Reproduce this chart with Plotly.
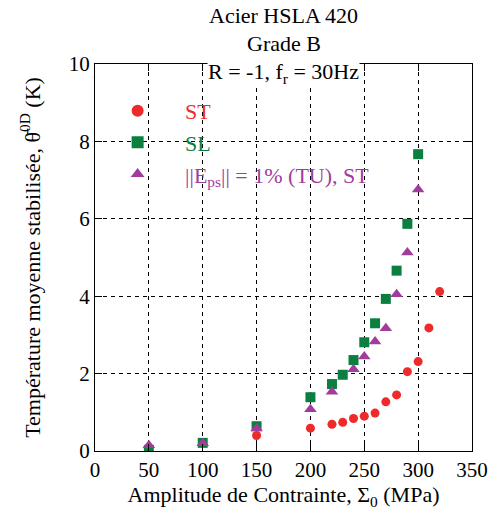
import plotly.graph_objects as go

# Data
st_x = [150, 200, 220, 230, 240, 250, 260, 270, 280, 290, 300, 310, 320]
st_y = [0.40, 0.59, 0.69, 0.74, 0.84, 0.90, 0.98, 1.27, 1.45, 2.05, 2.31, 3.18, 4.12]

sl_x = [50, 100, 150, 200, 220, 230, 240, 250, 260, 270, 280, 290, 300]
sl_y = [0.03, 0.21, 0.64, 1.39, 1.73, 1.97, 2.35, 2.81, 3.30, 3.93, 4.66, 5.87, 7.67]

tu_x = [50, 100, 150, 200, 220, 240, 250, 260, 270, 280, 290, 300]
tu_y = [0.15, 0.20, 0.58, 1.08, 1.53, 2.11, 2.44, 2.83, 3.17, 4.05, 5.13, 6.76]

x_ticks = [0, 50, 100, 150, 200, 250, 300, 350]
y_ticks = [0, 2, 4, 6, 8, 10]

RED = "#ee2a2a"
GREEN = "#0b7f40"
PURPLE = "#a23c9c"
FONT = "Liberation Serif"
PAD = "\u00a0" * 5

fig = go.Figure()
fig.add_trace(go.Scatter(x=st_x, y=st_y, mode="markers",
                         name=PAD + f"<span style='color:{RED}'>ST</span>",
                         marker=dict(symbol="circle", size=9, color=RED)))
fig.add_trace(go.Scatter(x=sl_x, y=sl_y, mode="markers",
                         name=PAD + f"<span style='color:{GREEN}'>SL</span>",
                         marker=dict(symbol="square", size=10, color=GREEN)))
fig.add_trace(go.Scatter(x=tu_x, y=tu_y, mode="markers",
                         name=PAD + f"<span style='color:{PURPLE}'>||E<sub>ps</sub>|| = 1% (TU), ST</span>",
                         marker=dict(symbol="triangle-up", size=11, color=PURPLE)))

axis_common = dict(
    showline=True, linecolor="black", linewidth=1.2, mirror="ticks",
    ticks="inside", ticklen=7, tickcolor="black",
    showgrid=True, gridcolor="black", gridwidth=1, griddash="4px,4px",
    zeroline=False, tickfont=dict(family=FONT, size=21, color="black"),
)

fig.update_xaxes(range=[0, 350], tickvals=x_ticks,
                 title=dict(text="Amplitude de Contrainte, Σ<sub>0</sub> (MPa)",
                            font=dict(family=FONT, size=22, color="black"), standoff=0),
                 **axis_common)
fig.update_yaxes(range=[0, 10], tickvals=y_ticks,
                 title=dict(text="Température moyenne stabilisée, θ\u0304<sup>0D</sup> (K)",
                            font=dict(family=FONT, size=22, color="black"), standoff=22),
                 **axis_common)

fig.update_layout(
    width=500, height=512,
    margin=dict(l=95, r=20, t=64, b=61),
    paper_bgcolor="white", plot_bgcolor="white",
    font=dict(family=FONT, size=21, color="black"),
    showlegend=True,
    legend=dict(x=0.06, y=0.933, xanchor="left", yanchor="top",
                bgcolor="rgba(0,0,0,0)", borderwidth=0,
                font=dict(family=FONT, size=22), tracegroupgap=0,
                itemsizing="constant"),
)

fig.add_annotation(text="Acier HSLA 420", x=0.5, y=1.0, xref="paper", yref="paper",
                   yshift=34, showarrow=False, yanchor="bottom",
                   font=dict(family=FONT, size=22, color="black"))
fig.add_annotation(text="Grade B", x=0.5, y=1.0, xref="paper", yref="paper",
                   yshift=6, showarrow=False, yanchor="bottom",
                   font=dict(family=FONT, size=22, color="black"))
fig.add_annotation(text="R = -1, f<sub>r</sub> = 30Hz", x=0.5, y=1.0, xref="paper", yref="paper",
                   yshift=-24, showarrow=False, yanchor="bottom", bgcolor="white",
                   borderpad=0,
                   font=dict(family=FONT, size=22, color="black"))

fig.write_html("out.html", config={"displayModeBar": False},
               post_script="document.body.style.margin='0';")
